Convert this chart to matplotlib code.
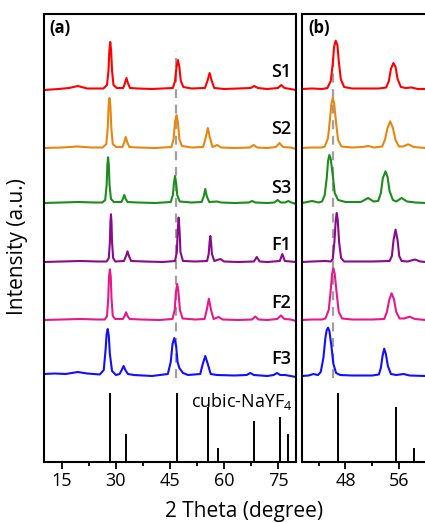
import matplotlib
matplotlib.use('Agg')
import matplotlib.pyplot as plt
from matplotlib.ticker import MultipleLocator

plt.rcParams['font.family'] = ['Open Sans', 'DejaVu Sans']
plt.rcParams['mathtext.fontset'] = 'custom'
plt.rcParams['mathtext.rm'] = 'Open Sans'

names = ['S1', 'S2', 'S3', 'F1', 'F2', 'F3']
colors = ['#FF0000', '#E8870F', '#1C8C1C', '#8B0A8B', '#E8188C', '#1010FF']
offsets = [373, 314, 259, 200, 142, 86]
label_y = [390, 333, 274, 217, 159, 103]

# reference pattern, cubic NaYF4
ref_pos = [28.2, 32.7, 46.9, 55.6, 58.3, 68.3, 75.5, 77.8]
ref_int = [100, 41, 100, 80, 20, 59, 65, 41]
ref_scale = 0.69

# panel (a): full range traces (2theta, intensity above own baseline)
a_x = {
    'S1': [10, 14, 17, 19.4, 22, 26.5, 27.5, 27.9, 28.15, 28.4, 28.65, 28.9, 29.3, 30.2, 32.0, 32.5, 32.9, 33.3, 33.9, 36, 40, 45.8, 46.4, 46.8, 47.2, 47.6, 48.0, 48.7, 51, 54.7, 55.4, 56.0, 56.6, 57.3, 60, 64, 67.4, 68.4, 69.4, 72, 75.0, 75.9, 76.8, 78.5, 80],
    'S2': [10, 15, 19.3, 23, 26.3, 27.3, 27.7, 27.95, 28.2, 28.45, 28.7, 29.1, 30.0, 31.8, 32.3, 32.7, 33.1, 33.7, 36, 41, 45.4, 46.0, 46.4, 46.8, 47.2, 47.6, 48.3, 51, 54.2, 54.9, 55.5, 56.1, 56.8, 58.1, 59.2, 63, 67.2, 68.2, 69.2, 72, 74.4, 75.4, 76.4, 78.5, 80],
    'S3': [10, 15, 19.5, 24, 26.2, 27.0, 27.4, 27.6, 27.8, 28.0, 28.2, 28.6, 29.4, 31.5, 31.9, 32.3, 32.7, 33.2, 36, 41, 45.2, 45.8, 46.1, 46.4, 46.7, 47.0, 47.7, 51, 53.8, 54.4, 54.8, 55.2, 55.9, 58.1, 59.2, 63, 66.9, 67.8, 68.7, 72, 74.0, 74.9, 75.8, 77.0, 77.9, 78.7, 80],
    'F1': [10, 15, 20, 25, 27.4, 28.0, 28.3, 28.45, 28.6, 28.75, 28.9, 29.2, 29.8, 32.2, 32.8, 33.2, 33.6, 34.2, 38, 43, 46.4, 46.9, 47.15, 47.4, 47.65, 47.9, 48.6, 52, 55.3, 55.75, 56.0, 56.2, 56.4, 56.65, 57.3, 59.0, 60.0, 64, 68.3, 69.1, 69.9, 72, 75.5, 76.2, 76.9, 78.5, 80],
    'F2': [10, 15, 20, 25, 26.9, 27.5, 27.85, 28.05, 28.3, 28.55, 28.75, 29.1, 29.8, 31.9, 32.4, 32.8, 33.2, 33.8, 37, 42, 45.7, 46.3, 46.65, 47.0, 47.35, 47.75, 48.5, 52, 54.6, 55.2, 55.8, 56.4, 57.1, 58.5, 59.6, 64, 67.8, 68.7, 69.6, 72, 74.8, 75.8, 76.8, 78.5, 80],
    'F3': [10, 13, 16, 19.4, 22, 25.5, 26.6, 27.1, 27.4, 27.7, 28.0, 28.3, 28.9, 30.0, 31.0, 31.6, 32.1, 32.6, 33.3, 35, 40, 44.4, 45.2, 45.7, 46.2, 46.7, 47.1, 47.6, 48.6, 50, 53.4, 54.1, 54.8, 55.5, 56.3, 58, 63, 66.3, 67.3, 68.3, 72, 73.8, 74.7, 75.6, 77, 80],
}
a_y = {
    'S1': [-1, 0, 1, 3, 0.5, 0.5, 4, 18, 38, 47, 38, 18, 4, 1, 1, 6, 11, 6, 1, 0.5, 0, 1, 8, 22, 29, 22, 8, 2, 0.5, 1, 8, 16, 8, 1, 0, 0.5, 1, 3, 1, 0, 1, 4, 1, 0, -1],
    'S2': [0, 0.5, 1.5, 0.5, 0.5, 4, 20, 42, 50, 42, 20, 4, 1, 1, 6, 11, 6, 1, 0.5, 0, 1, 9, 26, 33, 26, 9, 2, 0.5, 1, 10, 20, 10, 1, 3, 0.5, 0, 0.5, 3, 0.5, 0, 1, 5, 1, 0.5, -1],
    'S3': [0, 0.5, 1, 0.5, 0.5, 3, 18, 38, 45.7, 38, 18, 4, 1, 1, 4, 8, 4, 1, 0.5, 0, 1, 8, 20, 27, 20, 8, 1.5, 0.5, 1, 7, 14, 7, 1, 1.5, 0.5, 0, 0.5, 2, 0.5, 0, 0.5, 3, 0.5, 0.5, 2, 0.5, -1],
    'F1': [0, 0.5, 1, 0.5, 0.5, 4, 20, 40, 47.7, 40, 20, 4, 0.5, 1, 6, 10.7, 6, 1, 0.5, 0, 1, 10, 32, 44.4, 32, 10, 1, 0.5, 1, 8, 20, 26, 20, 8, 1, 3, 0.5, 0, 0.5, 5, 0.5, 0, 1, 8, 1, 0.5, 0],
    'F2': [0, 0.5, 1, 0.5, 0.5, 4, 22, 43, 50.7, 43, 22, 4, 1, 1, 4, 7.7, 4, 1, 0.5, 0, 1, 10, 28, 36, 28, 10, 1.5, 0.5, 1, 10, 21.3, 10, 1, 3, 0.5, 0, 0.5, 3.5, 0.5, 0, 1, 4.5, 1, 0.5, -1],
    'F3': [2, 2.5, 2, 4, 2.5, 1.5, 6, 26, 42, 47, 40, 22, 5, 1, 2, 6, 10, 6, 2, 1, 0, 2, 14, 32, 38, 30, 14, 8, 3, 1, 2, 12, 20, 12, 2, 1, 0.5, 1, 3, 1, 0, 1, 3, 1, 1, -1],
}

# panel (b): zoom 41.5-62
b_x = {
    'S1': [41.5, 43, 44.5, 45.3, 45.8, 46.1, 46.3, 46.54, 46.8, 47.0, 47.3, 47.8, 49, 51, 53, 54.1, 54.5, 54.8, 55.17, 55.5, 55.8, 56.3, 57.0, 57.9, 58.8, 60, 62],
    'S2': [41.5, 43, 44.5, 44.9, 45.4, 45.7, 45.9, 46.1, 46.3, 46.6, 46.9, 47.4, 49, 50.5, 51.4, 52.3, 53.5, 53.9, 54.3, 54.7, 55.1, 55.5, 56.0, 56.6, 57.4, 58.2, 60, 62],
    'S3': [41.5, 43.0, 44.0, 44.5, 44.9, 45.2, 45.4, 45.6, 45.8, 46.1, 46.4, 46.9, 48, 50.3, 51.4, 52.2, 52.9, 53.3, 53.6, 54.0, 54.3, 54.6, 55.1, 55.6, 56.4, 57.2, 58.5, 60, 62],
    'F1': [41.5, 43, 45.0, 45.8, 46.1, 46.35, 46.55, 46.7, 46.85, 47.05, 47.35, 47.8, 49, 52, 54.6, 54.95, 55.2, 55.5, 55.8, 56.05, 56.4, 57.3, 58.4, 59.2, 60, 62],
    'F2': [41.5, 43, 44.5, 45.0, 45.5, 45.8, 46.0, 46.2, 46.4, 46.7, 47.0, 47.5, 49, 52, 53.8, 54.2, 54.55, 54.9, 55.25, 55.6, 56.1, 56.8, 57.6, 58.4, 60, 62],
    'F3': [41.5, 42.5, 43.2, 43.9, 44.3, 44.7, 45.0, 45.2, 45.4, 45.6, 45.9, 46.2, 46.6, 47.2, 49, 52, 53.0, 53.3, 53.55, 53.8, 54.05, 54.35, 54.8, 55.6, 56.7, 57.6, 60, 62],
}
b_y = {
    'S1': [0, 0.5, 0, 1, 8, 25, 42, 48.3, 44, 28, 10, 2, 0.5, 0.5, 0.5, 1.5, 8, 20, 26, 22, 10, 2, 1, 1.5, 0, 0, 0],
    'S2': [0, 0.5, 0.5, 1.5, 10, 30, 44, 50, 45, 25, 8, 1.5, 0.5, 1, 2, 0.5, 1.5, 8, 20, 26.7, 20, 8, 1.5, 1.5, 3.7, 1, 0, 0],
    'S3': [0, 2, 0.5, 1.5, 8, 25, 42, 48, 44, 28, 10, 3, 1, 1, 5, 1.5, 2, 10, 25, 31.7, 26, 12, 3, 1.5, 5, 1.5, 0.5, 0, 0],
    'F1': [0, 0.5, 1, 0.5, 3, 20, 42, 49, 42, 20, 4, 0.5, 0.5, 0.5, 1, 6, 22, 32.4, 22, 6, 1, 0.5, 2.5, 0.5, 0, 0],
    'F2': [0, 0.5, 0.5, 1.5, 10, 30, 46, 51.7, 46, 26, 8, 1.5, 0.5, 0.5, 1, 8, 20, 26.7, 21, 8, 1.5, 1.5, 3.3, 1, 0, 0],
    'F3': [0, 0.5, 2, 1, 4, 18, 38, 46, 48.3, 45, 30, 12, 3, 1, 0.5, 0.5, 1.5, 8, 20, 27.3, 22, 10, 2, 1, 2, 0.5, 0, 0],
}

dash_a = 46.7
dash_b = 46.1
dash_span = (84, 411)

W, H = 425, 523
fig = plt.figure(figsize=(W / 100, H / 100), dpi=100)
ax1 = fig.add_axes([44 / W, 1 - 462 / H, 252 / W, 448 / H])
ax2 = fig.add_axes([302 / W, 1 - 462 / H, 137 / W, 448 / H])

for ax, xs, ys, dx in [(ax1, a_x, a_y, dash_a), (ax2, b_x, b_y, dash_b)]:
    ax.vlines(dx, *dash_span, colors='#A0A0A0', linestyles=(0, (4, 3)), linewidth=1.6, zorder=1)
    for n, c, off in zip(names, colors, offsets):
        ax.plot(xs[n], [v + off for v in ys[n]], color=c, lw=1.5, zorder=2)
    ax.vlines(ref_pos, 0, [v * ref_scale for v in ref_int], colors='black', linewidth=1.4)
    ax.set_ylim(0, 448)
    ax.set_yticks([])
    for s in ax.spines.values():
        s.set_linewidth(1.5)
    ax.tick_params(axis='x', which='major', direction='out', length=5, width=1.3, labelsize=13, pad=2)
    ax.tick_params(axis='x', which='minor', direction='out', length=3, width=1.3)

ax1.set_xlim(10, 80)
ax1.xaxis.set_major_locator(MultipleLocator(15))
ax1.xaxis.set_minor_locator(MultipleLocator(7.5))
ax2.set_xlim(41.5, 62)
ax2.xaxis.set_major_locator(MultipleLocator(8))
ax2.xaxis.set_minor_locator(MultipleLocator(4))

for n, ly in zip(names, label_y):
    ax1.text(78.7, ly, n, ha='right', va='center', fontsize=13, fontweight='semibold')
ax1.text(79.0, 61, r'cubic-NaYF$_4$', ha='right', va='center', fontsize=13)

ax1.text(0.02, 0.988, '(a)', transform=ax1.transAxes, ha='left', va='top', fontsize=12, fontweight='bold')
ax2.text(0.045, 0.988, '(b)', transform=ax2.transAxes, ha='left', va='top', fontsize=12, fontweight='bold')

fig.text(18 / W, 1 - 247 / H, 'Intensity (a.u.)', rotation=90, ha='center', va='center', fontsize=15)
fig.text(244 / W, 1 - 512 / H, '2 Theta (degree)', ha='center', va='center', fontsize=15)

fig.savefig('out.png', dpi=100)
